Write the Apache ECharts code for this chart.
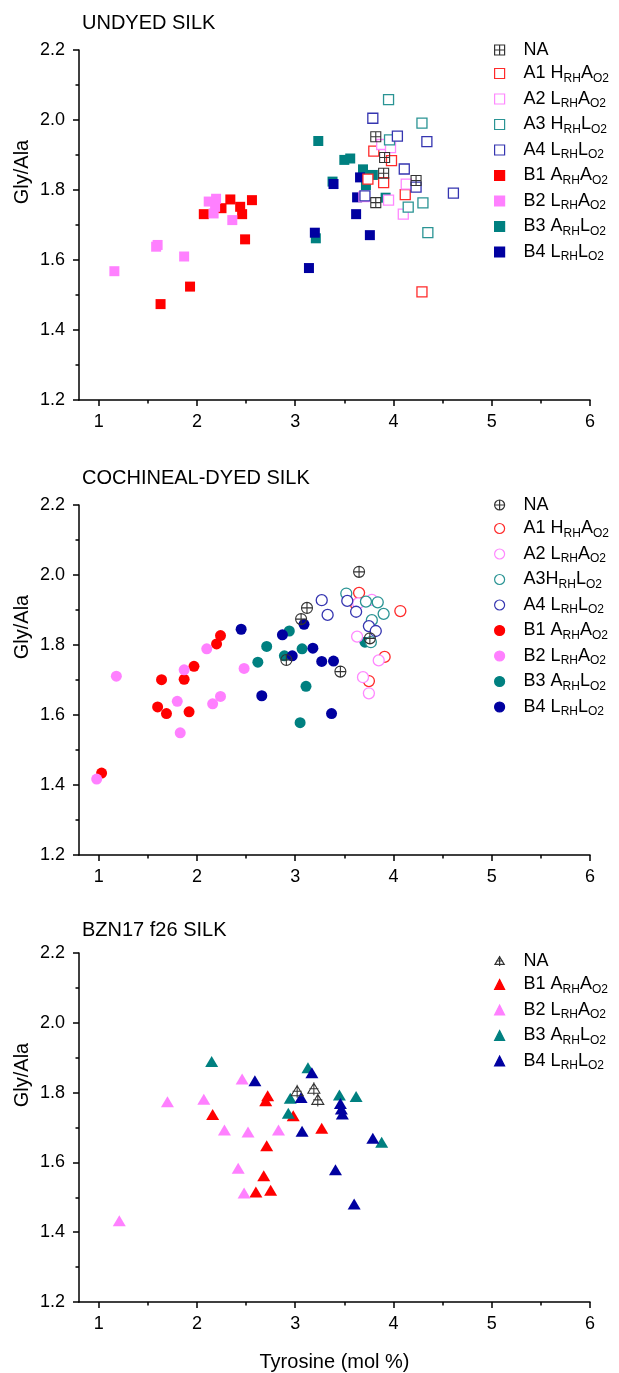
<!DOCTYPE html>
<html>
<head>
<meta charset="utf-8">
<script src="https://cdn.jsdelivr.net/npm/echarts@6/dist/echarts.min.js"></script>
<style>html,body{margin:0;padding:0;background:#fff;}#c{width:619px;height:1373px;}</style>
</head>
<body>
<div id="c"></div>
<script>
// ---------- tick labels / categories ----------
const xTicks = [1, 2, 3, 4, 5, 6];
const xMinorTicks = [1.5, 2.5, 3.5, 4.5, 5.5];
const yTicks = [1.2, 1.4, 1.6, 1.8, 2.0, 2.2];
const yMinorTicks = [1.3, 1.5, 1.7, 1.9, 2.1];
const panelTitles = ['UNDYED SILK', 'COCHINEAL-DYED SILK', 'BZN17 f26 SILK'];
const yAxisTitle = 'Gly/Ala';
const xAxisTitle = 'Tyrosine (mol %)';

// ---------- panel 1: undyed silk ----------
const u_NA = [[3.82,1.952],[3.91,1.893],[3.90,1.848],[4.23,1.827],[3.82,1.764]];
const u_A1 = [[3.80,1.911],[3.98,1.884],[3.74,1.831],[3.90,1.821],[4.12,1.787],[4.29,1.509]];
const u_A2 = [[3.88,1.930],[3.97,1.921],[4.13,1.817],[3.95,1.771],[4.10,1.731],[3.70,1.781]];
const u_A3 = [[3.95,2.058],[4.29,1.991],[3.96,1.943],[4.15,1.751],[4.30,1.763],[4.35,1.678]];
const u_A4 = [[3.79,2.005],[4.04,1.954],[4.34,1.938],[4.11,1.860],[4.23,1.808],[4.61,1.791],[3.71,1.783]];
const u_B1 = [[1.63,1.474],[1.93,1.524],[2.49,1.659],[2.07,1.731],[2.25,1.748],[2.34,1.773],[2.44,1.752],[2.46,1.731],[2.56,1.771]];
const u_B2 = [[1.16,1.568],[1.585,1.638],[1.60,1.643],[1.87,1.610],[2.12,1.767],[2.195,1.775],[2.17,1.733],[2.185,1.752],[2.36,1.714]];
const u_B3 = [[3.235,1.940],[3.50,1.886],[3.56,1.890],[3.69,1.859],[3.79,1.843],[3.38,1.824],[3.72,1.814],[3.92,1.778],[3.21,1.662]];
const u_B4 = [[3.66,1.836],[3.39,1.817],[3.63,1.779],[3.62,1.731],[3.20,1.678],[3.76,1.671],[3.14,1.577]];

// ---------- panel 2: cochineal-dyed silk ----------
const c_NA = [[3.65,2.009],[3.12,1.906],[3.06,1.874],[3.46,1.724],[3.76,1.819],[2.91,1.757]];
const c_A1 = [[3.65,1.949],[4.07,1.897],[3.91,1.766],[3.75,1.697],[3.62,1.915]];
const c_A2 = [[3.78,1.929],[3.63,1.824],[3.85,1.756],[3.69,1.708],[3.75,1.662],[3.64,1.919]];
const c_A3 = [[3.52,1.947],[3.72,1.924],[3.84,1.922],[3.90,1.889],[3.78,1.871],[3.77,1.808]];
const c_A4 = [[3.27,1.928],[3.33,1.886],[3.53,1.926],[3.62,1.895],[3.75,1.854],[3.82,1.840]];
const c_B1 = [[1.03,1.434],[2.24,1.827],[2.20,1.803],[1.97,1.739],[1.64,1.701],[1.87,1.702],[1.60,1.623],[1.69,1.604],[1.92,1.609]];
const c_B2 = [[0.98,1.417],[1.18,1.711],[2.10,1.789],[1.87,1.729],[1.80,1.639],[2.24,1.653],[2.16,1.632],[1.83,1.549],[2.48,1.733]];
const c_B3 = [[2.71,1.796],[2.62,1.751],[2.89,1.769],[2.94,1.840],[3.07,1.789],[3.71,1.808],[3.11,1.682],[3.05,1.578]];
const c_B4 = [[2.45,1.845],[2.87,1.829],[2.97,1.769],[2.66,1.655],[3.09,1.859],[3.18,1.791],[3.27,1.753],[3.39,1.754],[3.37,1.604]];

// ---------- panel 3: BZN17 f26 silk ----------
const b_NA = [[3.02,1.804],[3.19,1.811],[3.23,1.779]];
const b_B1 = [[2.16,1.737],[2.72,1.791],[2.70,1.777],[2.98,1.734],[2.71,1.648],[2.68,1.562],[2.60,1.515],[2.75,1.520],[3.27,1.698]];
const b_B2 = [[1.70,1.774],[2.07,1.781],[2.46,1.839],[2.28,1.693],[2.52,1.687],[2.83,1.693],[2.42,1.583],[2.48,1.512],[1.21,1.433]];
const b_B3 = [[2.15,1.889],[3.13,1.871],[2.95,1.784],[2.93,1.741],[3.45,1.793],[3.62,1.789],[3.88,1.658]];
const b_B4 = [[2.59,1.834],[3.17,1.857],[3.06,1.786],[3.46,1.769],[3.47,1.753],[3.48,1.739],[3.07,1.689],[3.79,1.669],[3.41,1.579],[3.60,1.481]];

// ---------- legend labels ----------
const labels = {
  NA: '{m|NA}',
  A1: '{m|A1 H}{s|RH}{m|A}{s|O2}',
  A2: '{m|A2 L}{s|RH}{m|A}{s|O2}',
  A3: '{m|A3 H}{s|RH}{m|L}{s|O2}',
  A3b: '{m|A3H}{s|RH}{m|L}{s|O2}',
  A4: '{m|A4 L}{s|RH}{m|L}{s|O2}',
  B1: '{m|B1 A}{s|RH}{m|A}{s|O2}',
  B2: '{m|B2 L}{s|RH}{m|A}{s|O2}',
  B3: '{m|B3 A}{s|RH}{m|L}{s|O2}',
  B4: '{m|B4 L}{s|RH}{m|L}{s|O2}'
};

// ---------- styling ----------
const FONT = "'Liberation Sans', Arial, sans-serif";
const COL = {red:'#ff0000', pink:'#ff80ff', teal:'#008080', navy:'#0000a0'};
const OPEN = {red:'#ff2a2a', pink:'#ff88ff', teal:'#2a9494', navy:'#3535b0'};
const NA_COL = '#333333';
const SYM_NA = [
  'path://M0,0 H10 V10 H0 Z M5,0 V10 M0,5 H10',
  'path://M0,5 A5,5 0 1,0 10,5 A5,5 0 1,0 0,5 Z M5,0 V10 M0,5 H10',
  'path://M6,1 L12,11 L0,11 Z M6,0 V13 M1.5,6.5 H10.5'
];
const GRID_TOP = [50, 505, 953];
const GRID_H = 350;
const LEGEND_TOP = [41, 496, 952];
const TITLE_TOP = [13, 468, 920];

const grids = [], xAxes = [], yAxes = [], series = [], legends = [], titles = [], graphics = [];

function addPanel(i, sets, shape, symSize, naSize) {
  grids.push({left: 79, right: 29, top: GRID_TOP[i], height: GRID_H, containLabel: false});
  const tickStyle = {color: '#000', width: 1.5};
  xAxes.push({gridIndex: i, type: 'value', min: 0.8, max: 6, position: 'bottom',
    axisLine: {show: true, onZero: false, lineStyle: tickStyle},
    axisTick: {show: true, inside: false, length: 6, customValues: xTicks, lineStyle: tickStyle},
    axisLabel: {show: true, customValues: xTicks, margin: 13, fontSize: 18, color: '#000', fontFamily: FONT},
    splitLine: {show: false},
    name: i === 2 ? xAxisTitle : '', nameLocation: 'middle', nameGap: 50,
    nameTextStyle: {fontSize: 20, color: '#000', fontFamily: FONT}});
  xAxes.push({gridIndex: i, type: 'value', min: 0.8, max: 6, position: 'bottom',
    axisLine: {show: false},
    axisTick: {show: true, inside: false, length: 3.5, customValues: xMinorTicks, lineStyle: tickStyle},
    axisLabel: {show: false}, splitLine: {show: false}});
  yAxes.push({gridIndex: i, type: 'value', min: 1.2, max: 2.2, position: 'left',
    axisLine: {show: true, onZero: false, lineStyle: tickStyle},
    axisTick: {show: true, inside: false, length: 6, customValues: yTicks, lineStyle: tickStyle},
    axisLabel: {show: true, customValues: yTicks, margin: 14, fontSize: 18, color: '#000', fontFamily: FONT,
      formatter: v => Number(v).toFixed(1)},
    splitLine: {show: false}});
  yAxes.push({gridIndex: i, type: 'value', min: 1.2, max: 2.2, position: 'left',
    axisLine: {show: false},
    axisTick: {show: true, inside: false, length: 3.5, customValues: yMinorTicks, lineStyle: tickStyle},
    axisLabel: {show: false}, splitLine: {show: false}});

  titles.push({text: panelTitles[i], left: 82, top: TITLE_TOP[i], padding: 0,
    textStyle: {fontSize: 20, fontWeight: 'normal', color: '#000', fontFamily: FONT}});
  graphics.push({type: 'text', x: 22, y: GRID_TOP[i] + 122, rotation: Math.PI / 2,
    style: {text: yAxisTitle, fontSize: 20, fill: '#000', fontFamily: FONT, align: 'center', verticalAlign: 'middle'}});

  const names = [];
  const labelMap = {};
  // filled first, open next, NA on top
  const order = sets.filter(s => s.kind === 'filled').concat(sets.filter(s => s.kind === 'open'), sets.filter(s => s.kind === 'na'));
  order.forEach(s => {
    let itemStyle, symbol, size;
    if (s.kind === 'filled') {
      symbol = shape; size = symSize;
      itemStyle = {color: COL[s.col], borderColor: COL[s.col], borderWidth: 0, opacity: 1};
    } else if (s.kind === 'open') {
      symbol = shape; size = symSize;
      itemStyle = {color: '#ffffff', borderColor: OPEN[s.col], borderWidth: 1.3, opacity: 1};
    } else {
      symbol = SYM_NA[i]; size = naSize;
      itemStyle = {color: 'rgba(0,0,0,0)', borderColor: NA_COL, borderWidth: 1.1, opacity: 1};
    }
    series.push({type: 'scatter', name: s.name, xAxisIndex: 2 * i, yAxisIndex: 2 * i,
      data: s.data, symbol: symbol, symbolSize: size, itemStyle: itemStyle,
      emphasis: {disabled: true}, animation: false, silent: true});
  });
  sets.forEach(s => { names.push(s.name); labelMap[s.name] = s.label; });
  legends.push({orient: 'vertical', left: 494, top: LEGEND_TOP[i], itemWidth: 10, itemHeight: 10,
    itemGap: 5.5, data: names, selectedMode: false, padding: 0,
    formatter: n => labelMap[n],
    itemStyle: {borderWidth: 1.2},
    textStyle: {padding: [0, 0, 0, 14],
      rich: {
        m: {fontSize: 18, lineHeight: 22, color: '#000', fontFamily: FONT},
        s: {fontSize: 12, lineHeight: 12, verticalAlign: 'bottom', color: '#000', fontFamily: FONT}
      }}});
}

addPanel(0, [
  {name: 'u_NA', kind: 'na', data: u_NA, label: labels.NA},
  {name: 'u_A1', kind: 'open', col: 'red', data: u_A1, label: labels.A1},
  {name: 'u_A2', kind: 'open', col: 'pink', data: u_A2, label: labels.A2},
  {name: 'u_A3', kind: 'open', col: 'teal', data: u_A3, label: labels.A3},
  {name: 'u_A4', kind: 'open', col: 'navy', data: u_A4, label: labels.A4},
  {name: 'u_B1', kind: 'filled', col: 'red', data: u_B1, label: labels.B1},
  {name: 'u_B2', kind: 'filled', col: 'pink', data: u_B2, label: labels.B2},
  {name: 'u_B3', kind: 'filled', col: 'teal', data: u_B3, label: labels.B3},
  {name: 'u_B4', kind: 'filled', col: 'navy', data: u_B4, label: labels.B4}
], 'rect', 10, 10);

addPanel(1, [
  {name: 'c_NA', kind: 'na', data: c_NA, label: labels.NA},
  {name: 'c_A1', kind: 'open', col: 'red', data: c_A1, label: labels.A1},
  {name: 'c_A2', kind: 'open', col: 'pink', data: c_A2, label: labels.A2},
  {name: 'c_A3', kind: 'open', col: 'teal', data: c_A3, label: labels.A3b},
  {name: 'c_A4', kind: 'open', col: 'navy', data: c_A4, label: labels.A4},
  {name: 'c_B1', kind: 'filled', col: 'red', data: c_B1, label: labels.B1},
  {name: 'c_B2', kind: 'filled', col: 'pink', data: c_B2, label: labels.B2},
  {name: 'c_B3', kind: 'filled', col: 'teal', data: c_B3, label: labels.B3},
  {name: 'c_B4', kind: 'filled', col: 'navy', data: c_B4, label: labels.B4}
], 'circle', 11, 11);

addPanel(2, [
  {name: 'b_NA', kind: 'na', data: b_NA, label: labels.NA},
  {name: 'b_B1', kind: 'filled', col: 'red', data: b_B1, label: labels.B1},
  {name: 'b_B2', kind: 'filled', col: 'pink', data: b_B2, label: labels.B2},
  {name: 'b_B3', kind: 'filled', col: 'teal', data: b_B3, label: labels.B3},
  {name: 'b_B4', kind: 'filled', col: 'navy', data: b_B4, label: labels.B4}
], 'triangle', [13, 11], [12, 13]);

const chart = echarts.init(document.getElementById('c'), null, {renderer: 'canvas'});
chart.setOption({
  backgroundColor: '#ffffff',
  animation: false,
  textStyle: {fontFamily: FONT},
  title: titles,
  grid: grids,
  xAxis: xAxes,
  yAxis: yAxes,
  legend: legends,
  series: series,
  graphic: graphics
});
</script>
</body>
</html>
